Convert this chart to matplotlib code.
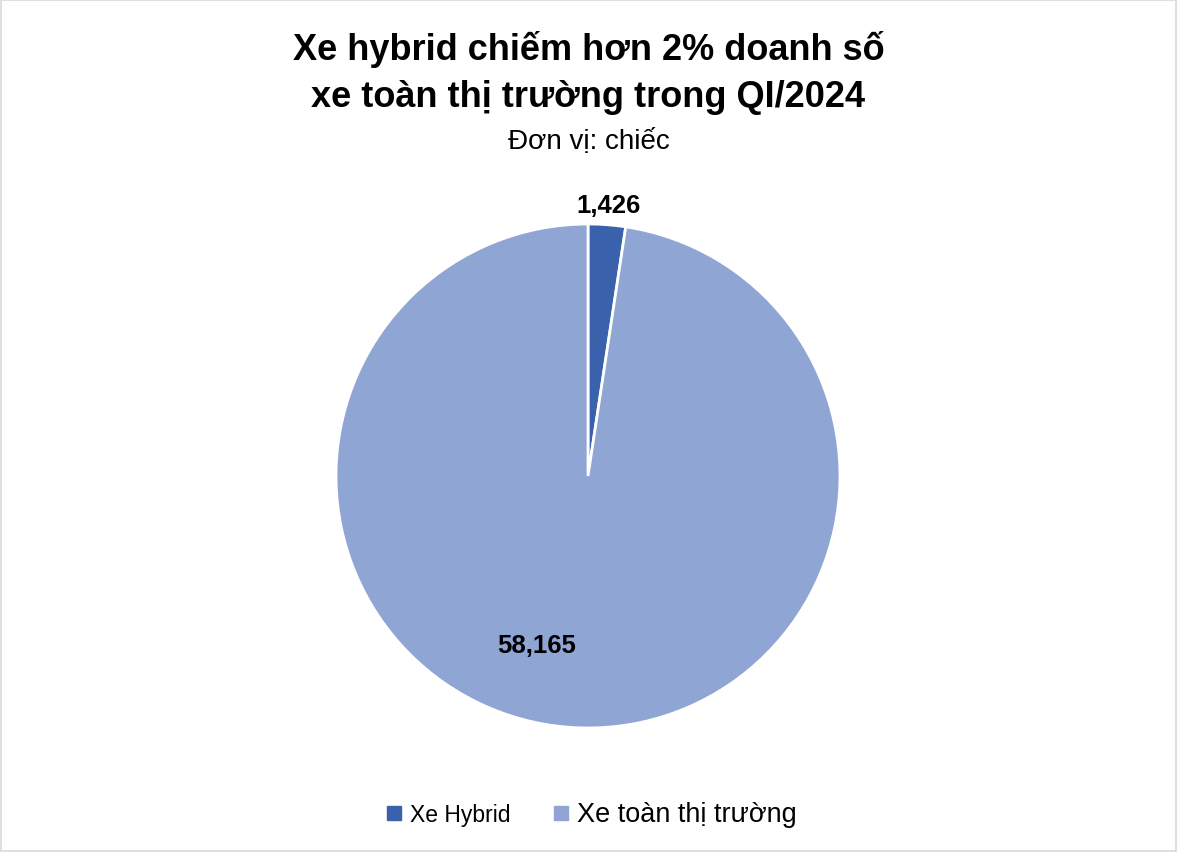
import numpy as np
import matplotlib.pyplot as plt
from matplotlib.patches import Rectangle
from matplotlib.lines import Line2D

plt.rcParams['font.family'] = ['Liberation Sans', 'DejaVu Sans']

categories = ['Xe Hybrid', 'Xe toàn thị trường']
values = [1426, 58165]
value_labels = ['1,426', '58,165']
colors = ['#3A62AC', '#8FA5D4']

title = 'Xe hybrid chiếm hơn 2% doanh số\nxe toàn thị trường trong QI/2024'
subtitle = 'Đơn vị: chiếc'

fig = plt.figure(figsize=(11.77, 8.53), dpi=100)
fig.patches.append(Rectangle((0.001, 0.001), 0.998, 0.998, transform=fig.transFigure,
                             fill=False, edgecolor='#D9D9D9', linewidth=1.2))

# pie centre ~ (588, 477) px, radius ~ 251 px
W, H = 1177, 853
cx, cy, r = 588, 477, 252
ax = fig.add_axes([(cx - r) / W, (H - cy - r) / H, 2 * r / W, 2 * r / H])
wedges, _ = ax.pie(values, colors=colors, startangle=90, counterclock=False, radius=1,
                   wedgeprops=dict(edgecolor='white', linewidth=2))
ax.set_xlim(-1, 1)
ax.set_ylim(-1, 1)
ax.axis('off')

# data labels: small slice outside, large slice inside
label_pos = [(1.08, None), (0.70, -106.9)]
for w, lab, (dist, ang) in zip(wedges, value_labels, label_pos):
    if ang is None:
        ang = (w.theta1 + w.theta2) / 2
    a = np.deg2rad(ang)
    ax.text(dist * np.cos(a), dist * np.sin(a), lab, ha='center', va='center',
            fontsize=18.5, fontweight='bold', color='black')

fig.text(0.5, 1 - 73 / H, title, ha='center', va='center', fontsize=26,
         fontweight='bold', linespacing=1.45)
fig.text(0.5, 1 - 142 / H, subtitle, ha='center', va='center', fontsize=20)

handles = [Line2D([], [], marker='s', linestyle='none', markersize=10,
                  markerfacecolor=c, markeredgecolor=c) for c in colors]
leg = fig.legend(handles, categories, loc='center', bbox_to_anchor=(0.5, 1 - 815 / H),
                 ncol=2, frameon=False, fontsize=16.5, handlelength=1.2,
                 handletextpad=0.1, columnspacing=1.6)
leg.get_texts()[1].set_fontsize(19.5)

fig.savefig('out.png', dpi=100)
